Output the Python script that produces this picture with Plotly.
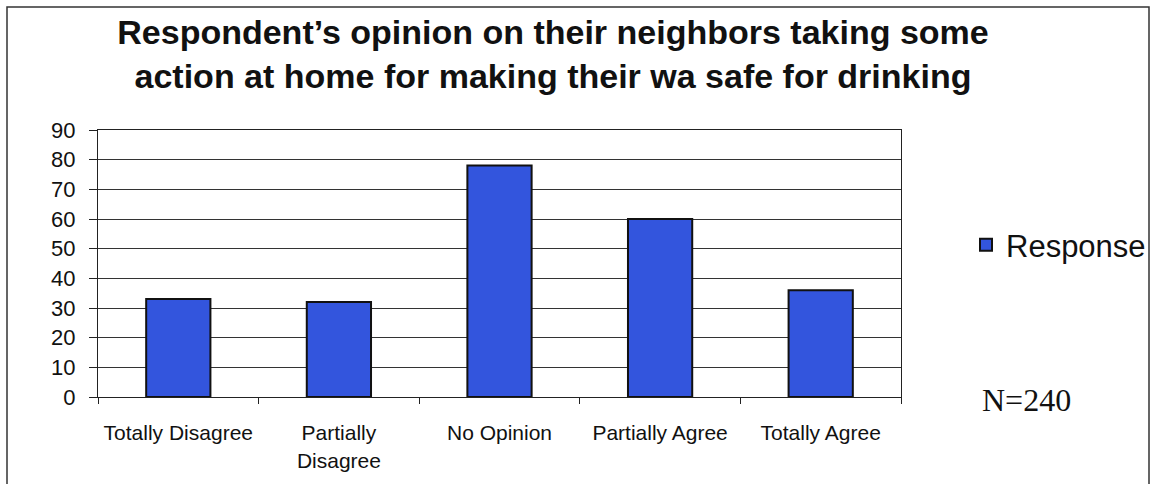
import plotly.graph_objects as go

categories = ["Totally Disagree", "Partially<br>Disagree", "No Opinion", "Partially Agree", "Totally Agree"]
values = [33, 32, 78, 60, 36]
series_name = "Response"
title_text = "Respondent’s opinion on their neighbors taking some<br>action at home for making their wa safe for drinking"
note_text = "N=240"

W, H = 1151, 484
L, R, T, B = 98, 250, 130, 87
pw, ph = W - L - R, H - T - B

def px_x(x):
    return (x - L) / pw

def px_y(y):
    return (H - B - y) / ph

fig = go.Figure(
    go.Bar(
        x=categories,
        y=values,
        name=series_name,
        showlegend=True,
        marker=dict(color="#3355DD", line=dict(color="#111111", width=2)),
    )
)

fig.update_layout(
    width=W,
    height=H,
    autosize=False,
    margin=dict(l=L, r=R, t=T, b=B, autoexpand=False),
    paper_bgcolor="white",
    plot_bgcolor="white",
    bargap=0.6,
    title=dict(
        text=title_text,
        font=dict(family="Arial", size=34, color="#111111", weight="bold"),
        x=553 / W,
        xref="container",
        xanchor="center",
        y=1 - 44 / H,
        yref="container",
        yanchor="top",
        automargin=False,
    ),
    legend=dict(
        font=dict(family="Arial", size=31, color="#111111"),
        x=px_x(966),
        y=px_y(245),
        xanchor="left",
        yanchor="middle",
        bgcolor="rgba(0,0,0,0)",
    ),
    yaxis=dict(
        range=[0, 90],
        dtick=10,
        showgrid=True,
        gridcolor="#333333",
        gridwidth=1,
        showline=True,
        linecolor="#222222",
        linewidth=1,
        mirror=True,
        ticks="outside",
        ticklen=8,
        tickcolor="#222222",
        zeroline=False,
        automargin=False,
        tickfont=dict(family="Arial", size=22, color="#111111"),
        ticklabelstandoff=9,
    ),
    xaxis=dict(
        showline=True,
        linecolor="#222222",
        linewidth=1,
        mirror=True,
        ticks="outside",
        tickson="boundaries",
        ticklen=6,
        tickcolor="#222222",
        tickangle=0,
        automargin=False,
        tickfont=dict(family="Arial", size=21, color="#111111"),
        ticklabelstandoff=17,
    ),
    shapes=[
        dict(
            type="rect",
            xref="paper",
            yref="paper",
            x0=px_x(7),
            x1=px_x(1149),
            y0=px_y(495),
            y1=px_y(7),
            line=dict(color="#333333", width=1.5),
            fillcolor="rgba(0,0,0,0)",
            layer="below",
        )
    ],
    annotations=[
        dict(
            text=note_text,
            xref="paper",
            yref="paper",
            x=px_x(1026),
            y=px_y(400),
            xanchor="center",
            yanchor="middle",
            showarrow=False,
            font=dict(family="Liberation Serif", size=32, color="#111111"),
        )
    ],
)

fig.write_html("out.html")
